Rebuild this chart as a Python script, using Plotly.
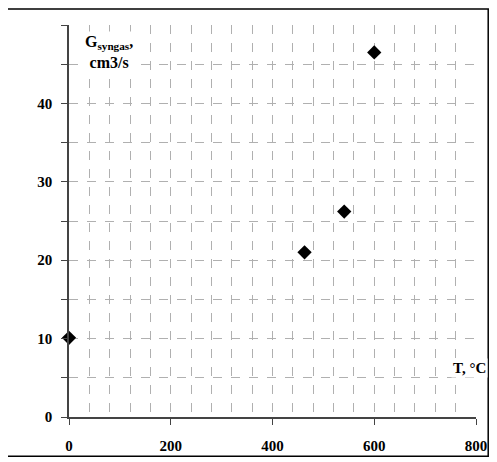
import plotly.graph_objects as go

# data
temp_c = [0, 463, 541, 600]
g_syngas = [10.1, 21.0, 26.2, 46.5]
x_ticks = [0, 200, 400, 600, 800]
y_ticks = [0, 10, 20, 30, 40]

FONT = "Liberation Serif"
GRID = "#b0b0b0"

fig = go.Figure()
fig.add_trace(go.Scatter(
    x=temp_c, y=g_syngas, mode="markers",
    marker=dict(symbol="diamond", size=11, color="black"),
    showlegend=False, cliponaxis=False
))

fig.update_xaxes(
    range=[0, 800], tickvals=x_ticks, showline=True, linecolor="#444", linewidth=1.5,
    ticks="outside", ticklen=6, tickcolor="#444",
    showgrid=True, gridcolor=GRID, griddash="dash", gridwidth=1,
    minor=dict(dtick=40, showgrid=True, gridcolor=GRID, griddash="dash"),
    zeroline=False, tickfont=dict(family=FONT, size=15, color="black", weight="bold"),
    ticklabelstandoff=8, automargin=False
)
fig.update_yaxes(
    range=[0, 50], tickvals=y_ticks, showline=True, linecolor="#444", linewidth=1.5,
    ticks="outside", ticklen=6, tickcolor="#444",
    showgrid=True, gridcolor=GRID, griddash="dash", gridwidth=1,
    minor=dict(dtick=5, showgrid=True, gridcolor=GRID, griddash="dash",
               ticks="outside", ticklen=6, tickcolor="#444"),
    zeroline=False, tickfont=dict(family=FONT, size=15, color="black", weight="bold"),
    ticklabelstandoff=6, automargin=False
)

fig.add_annotation(xref="paper", yref="paper", x=0.035, y=0.985, xanchor="left",
                   text="<b>G<sub>syngas</sub>,<br>cm3/s</b>", showarrow=False,
                   font=dict(family=FONT, size=16, color="black"),
                   bgcolor="white", align="center")
fig.add_annotation(xref="paper", yref="paper", x=1.03, y=0.1,
                   text="<b>T, °C</b>", showarrow=False, xanchor="right",
                   font=dict(family=FONT, size=15, color="black"),
                   bgcolor="white")
fig.add_shape(type="rect", xref="paper", yref="paper",
              x0=-0.152, x1=1.03, y0=-0.1, y1=1.041,
              line=dict(color="black", width=1.5))

fig.update_layout(
    width=481, height=450, plot_bgcolor="white", paper_bgcolor="white",
    margin=dict(l=61, r=13, t=17, b=41)
)
fig.write_html("out.html")
